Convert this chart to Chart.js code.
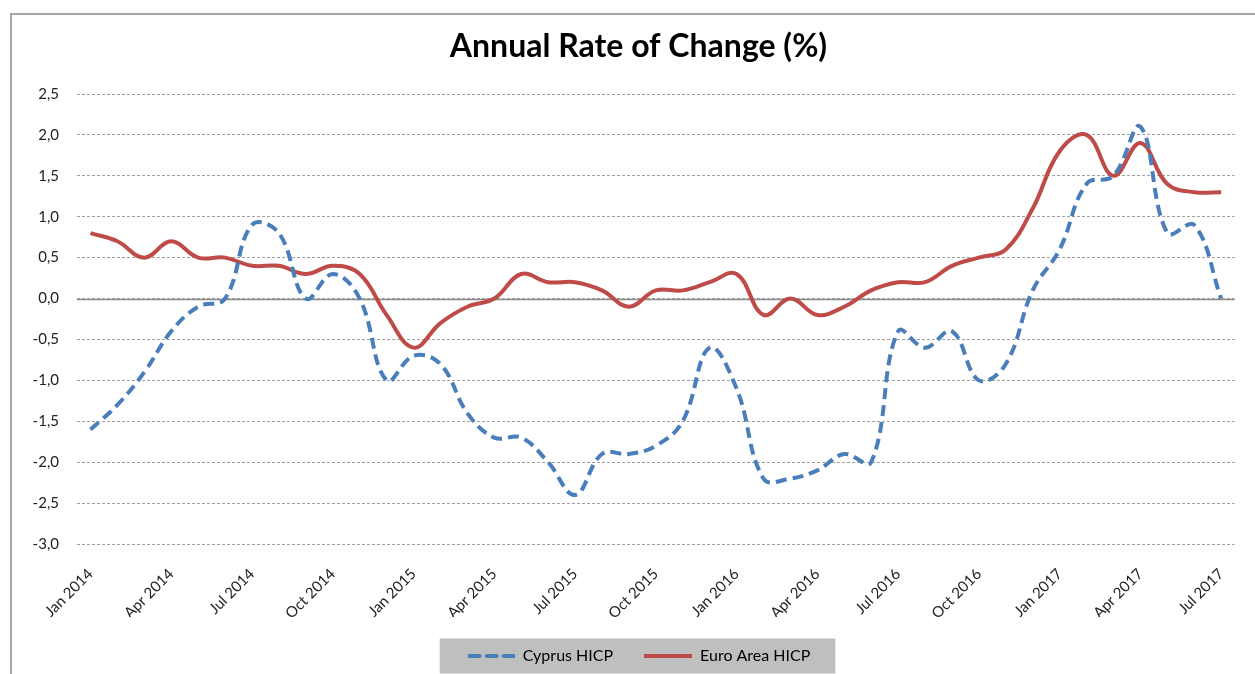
<!DOCTYPE html>
<html>
<head>
<meta charset="utf-8">
<script src="https://cdn.jsdelivr.net/npm/chart.js@4/dist/chart.umd.min.js"></script>
<style>
  html, body { margin: 0; padding: 0; background: #fff; overflow: hidden; }
  .frame {
    position: absolute; left: 10px; top: 13px; width: 1300px; height: 700px;
    border-left: 2px solid #a6a6a6; border-top: 2px solid #a6a6a6;
  }
  #chart { position: absolute; left: 0; top: 0; }
</style>
</head>
<body>
<div class="frame"></div>
<canvas id="chart" width="1255" height="674"></canvas>
<script>
const months = [
  'Jan 2014', 'Feb 2014', 'Mar 2014', 'Apr 2014', 'May 2014', 'Jun 2014',
  'Jul 2014', 'Aug 2014', 'Sep 2014', 'Oct 2014', 'Nov 2014', 'Dec 2014',
  'Jan 2015', 'Feb 2015', 'Mar 2015', 'Apr 2015', 'May 2015', 'Jun 2015',
  'Jul 2015', 'Aug 2015', 'Sep 2015', 'Oct 2015', 'Nov 2015', 'Dec 2015',
  'Jan 2016', 'Feb 2016', 'Mar 2016', 'Apr 2016', 'May 2016', 'Jun 2016',
  'Jul 2016', 'Aug 2016', 'Sep 2016', 'Oct 2016', 'Nov 2016', 'Dec 2016',
  'Jan 2017', 'Feb 2017', 'Mar 2017', 'Apr 2017', 'May 2017', 'Jun 2017',
  'Jul 2017',
];

const cyprusHicp = [
  -1.6, -1.3, -0.9, -0.4, -0.1, 0.0, 0.9, 0.8, 0.0, 0.3, 0.0, -1.0,
  -0.7, -0.8, -1.4, -1.7, -1.7, -2.0, -2.4, -1.9, -1.9, -1.8, -1.5, -0.6,
  -1.1, -2.2, -2.2, -2.1, -1.9, -2.0, -0.4, -0.6, -0.4, -1.0, -0.8, 0.1,
  0.6, 1.4, 1.5, 2.1, 0.8, 0.9, 0.0,
];

const euroAreaHicp = [
  0.8, 0.7, 0.5, 0.7, 0.5, 0.5, 0.4, 0.4, 0.3, 0.4, 0.3, -0.2,
  -0.6, -0.3, -0.1, 0.0, 0.3, 0.2, 0.2, 0.1, -0.1, 0.1, 0.1, 0.2,
  0.3, -0.2, 0.0, -0.2, -0.1, 0.1, 0.2, 0.2, 0.4, 0.5, 0.6, 1.1,
  1.8, 2.0, 1.5, 1.9, 1.4, 1.3, 1.3,
];

const seriesNames = ['Cyprus HICP', 'Euro Area HICP'];
const blue = '#4a7ebb';
const red = '#be4b48';
const fontFamily = 'Lato, "Open Sans", sans-serif';

// little line samples for the legend
function makeSample(color, dash) {
  const c = document.createElement('canvas');
  c.width = 48;
  c.height = 6;
  const ctx = c.getContext('2d');
  ctx.strokeStyle = color;
  ctx.lineWidth = 4;
  ctx.lineCap = dash.length ? 'round' : 'butt';
  ctx.setLineDash(dash);
  ctx.beginPath();
  ctx.moveTo(dash.length ? 3 : 0, 3);
  ctx.lineTo(48, 3);
  ctx.stroke();
  return c;
}
const samples = [makeSample(blue, [10, 7]), makeSample(red, [])];

const legendBackground = {
  id: 'legendBackground',
  beforeDraw(chart) {
    const boxes = chart.legend.legendHitBoxes;
    if (!boxes || !boxes.length) return;
    const left = Math.min(...boxes.map(b => b.left)) - 27;
    const right = Math.max(...boxes.map(b => b.left + b.width)) + 25;
    const cy = boxes[0].top + boxes[0].height / 2;
    const ctx = chart.ctx;
    ctx.save();
    ctx.fillStyle = '#bfbfbf';
    ctx.fillRect(left, cy - 17.5, right - left, 35);
    ctx.restore();
  },
};

const zeroLine = {
  id: 'zeroLine',
  beforeDatasetsDraw(chart) {
    const y = Math.round(chart.scales.y.getPixelForValue(0)) + 0.5;
    const { left, right } = chart.chartArea;
    const ctx = chart.ctx;
    ctx.save();
    ctx.strokeStyle = '#8c8c8c';
    ctx.lineWidth = 1.5;
    ctx.beginPath();
    ctx.moveTo(left, y);
    ctx.lineTo(right, y);
    ctx.stroke();
    ctx.restore();
  },
};

new Chart(document.getElementById('chart'), {
  type: 'line',
  data: {
    labels: months,
    datasets: [
      {
        label: seriesNames[0],
        data: cyprusHicp,
        borderColor: blue,
        backgroundColor: blue,
        borderWidth: 4,
        borderDash: [11, 6],
        pointRadius: 0,
        tension: 0.4,
        fill: false,
      },
      {
        label: seriesNames[1],
        data: euroAreaHicp,
        borderColor: red,
        backgroundColor: red,
        borderWidth: 4,
        pointRadius: 0,
        tension: 0.4,
        fill: false,
      },
    ],
  },
  options: {
    responsive: false,
    animation: false,
    layout: {
      padding: { left: 33, right: 11, top: 0, bottom: 0 },
    },
    plugins: {
      tooltip: { enabled: false },
      title: {
        display: true,
        text: 'Annual Rate of Change (%)',
        color: '#000',
        font: { family: fontFamily, size: 32, weight: 'bold', lineHeight: 1.2 },
        padding: { top: 27, bottom: 28.6 },
      },
      legend: {
        position: 'bottom',
        labels: {
          usePointStyle: true,
          pointStyleWidth: 48,
          padding: 31,
          color: '#000',
          font: { family: fontFamily, size: 16 },
          generateLabels(chart) {
            const items = Chart.defaults.plugins.legend.labels.generateLabels(chart);
            items.forEach((item, i) => { item.pointStyle = samples[i]; });
            return items;
          },
        },
      },
    },
    scales: {
      x: {
        offset: true,
        grid: { display: false, drawTicks: false },
        border: { display: false },
        afterFit(scale) { scale.height = 73; },
        ticks: {
          autoSkip: false,
          minRotation: 45,
          maxRotation: 45,
          padding: 21,
          color: '#222',
          font: { family: fontFamily, size: 15 },
          callback(value, index) {
            return index % 3 === 0 ? months[index] : '';
          },
        },
      },
      y: {
        min: -3,
        max: 2.5,
        grid: { color: '#a0a0a0', lineWidth: 1, drawTicks: false },
        border: { display: false, dash: [3, 2] },
        afterFit(scale) { scale.width = 44; },
        ticks: {
          stepSize: 0.5,
          padding: 18,
          color: '#222',
          font: { family: fontFamily, size: 15 },
          callback(value) {
            return value.toFixed(1).replace('.', ',');
          },
        },
      },
    },
  },
  plugins: [legendBackground, zeroLine],
});
</script>
</body>
</html>
